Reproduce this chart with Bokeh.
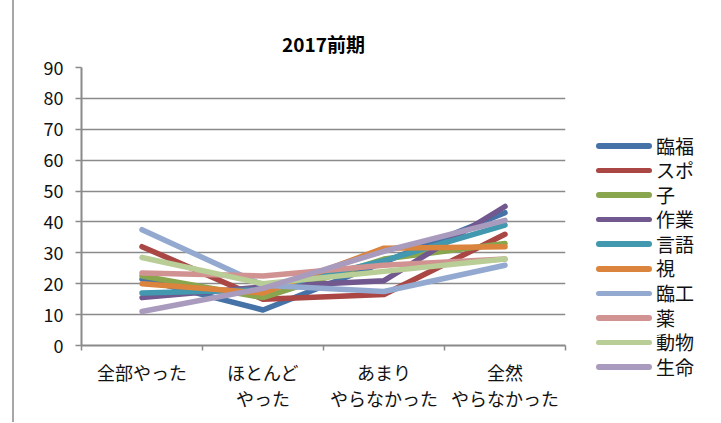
from bokeh.plotting import figure
from bokeh.layouts import row
from bokeh.models import FixedTicker, Range1d, InlineStyleSheet, Div
from bokeh.embed import file_html
from bokeh.resources import INLINE

# ---- data ----
categories = ["全部やった", "ほとんど\nやった", "あまり\nやらなかった", "全然\nやらなかった"]
series_names = ["臨福", "スポ", "子", "作業", "言語", "視", "臨工", "薬", "動物", "生命"]
rinpuku = [21.5, 11.5, 27, 43]
supo = [32, 15, 16.5, 36]
ko = [22.5, 15.5, 28, 33]
sagyo = [15.5, 19, 21, 45]
gengo = [17, 18, 27.5, 39]
shi = [20, 17, 31.5, 32]
rinko = [37.5, 19.5, 17.5, 26]
yaku = [23.5, 22.5, 26, 28]
dobutsu = [28.5, 20, 24, 28]
seimei = [11, 18.5, 30.5, 40.5]
series_values = [rinpuku, supo, ko, sagyo, gengo, shi, rinko, yaku, dobutsu, seimei]
colors = ["#4572A7", "#AA4643", "#89A54E", "#71588F", "#4198AF",
          "#DB843D", "#93A9CF", "#D19392", "#B9CD96", "#A99BBD"]
y_ticks = [0, 10, 20, 30, 40, 50, 60, 70, 80, 90]

FONT = "Noto Sans CJK JP"
GRAY = "#8a8a8a"
LW = 5.5

p = figure(width=590, height=422, output_backend="svg", toolbar_location=None,
           x_range=Range1d(0, len(categories)), y_range=Range1d(0, 90),
           min_border_left=81, min_border_right=25, min_border_top=67,
           min_border_bottom=77)
p.border_fill_color = None
p.outline_line_color = None
p.stylesheets = [InlineStyleSheet(css=":host { background: linear-gradient(to right, transparent 12px, #a6a6a6 12px, #a6a6a6 14px, transparent 14px); }")]

p.title.text = "2017前期"
p.title.text_font = FONT
p.title.text_font_size = "19px"
p.title.text_font_style = "bold"
p.title.text_color = "#000000"
p.title.align = "center"
p.title.standoff = 22

# x axis
xs = [i + 0.5 for i in range(len(categories))]
p.xaxis.ticker = FixedTicker(ticks=xs, minor_ticks=list(range(len(categories) + 1)))
p.xaxis.major_label_overrides = {x: c for x, c in zip(xs, categories)}
p.xaxis.major_tick_out = 0
p.xaxis.major_tick_in = 0
p.xaxis.minor_tick_out = 5
p.xaxis.minor_tick_in = 0
p.xaxis.minor_tick_line_color = GRAY
p.xaxis.minor_tick_line_width = 1.5
p.xaxis.axis_line_color = GRAY
p.xaxis.axis_line_width = 2
p.xaxis.major_label_text_font = FONT
p.xaxis.major_label_text_font_size = "18px"
p.xaxis.major_label_text_color = "#111111"
p.xaxis.major_label_text_line_height = 1.0
p.xaxis.major_label_standoff = 8
p.xgrid.visible = False

# y axis
p.yaxis.ticker = FixedTicker(ticks=y_ticks, minor_ticks=[])
p.yaxis.major_tick_out = 6
p.yaxis.major_tick_in = 0
p.yaxis.major_tick_line_color = GRAY
p.yaxis.major_tick_line_width = 1.5
p.yaxis.axis_line_color = GRAY
p.yaxis.axis_line_width = 2
p.yaxis.major_label_text_font = FONT
p.yaxis.major_label_text_font_size = "18px"
p.yaxis.major_label_text_color = "#111111"
p.yaxis.major_label_standoff = 12
p.ygrid.ticker = FixedTicker(ticks=y_ticks)
p.ygrid.grid_line_color = GRAY
p.ygrid.grid_line_width = 1.6

for vals, col in zip(series_values, colors):
    p.line(xs, vals, line_color=col, line_width=LW, line_cap="round", line_join="round")

# legend (HTML, built from the series names and colours)
rows_html = "".join(
    f'<div style="display:flex;align-items:center;height:24.6px;">'
    f'<span style="display:inline-block;width:56px;height:5.5px;border-radius:3px;'
    f'background:{col};margin-right:4px;"></span>'
    f'<span style="line-height:24.6px;">{name}</span></div>'
    for name, col in zip(series_names, colors)
)
legend_html = (
    f'<div style="padding-top:128.5px;padding-left:1px;font-family:\'{FONT}\';'
    f'font-size:19px;color:#111111;">{rows_html}</div>'
)
legend_div = Div(text=legend_html, width=130, height=422)

layout = row(p, legend_div)
open("out.html", "w").write(file_html(layout, INLINE))
